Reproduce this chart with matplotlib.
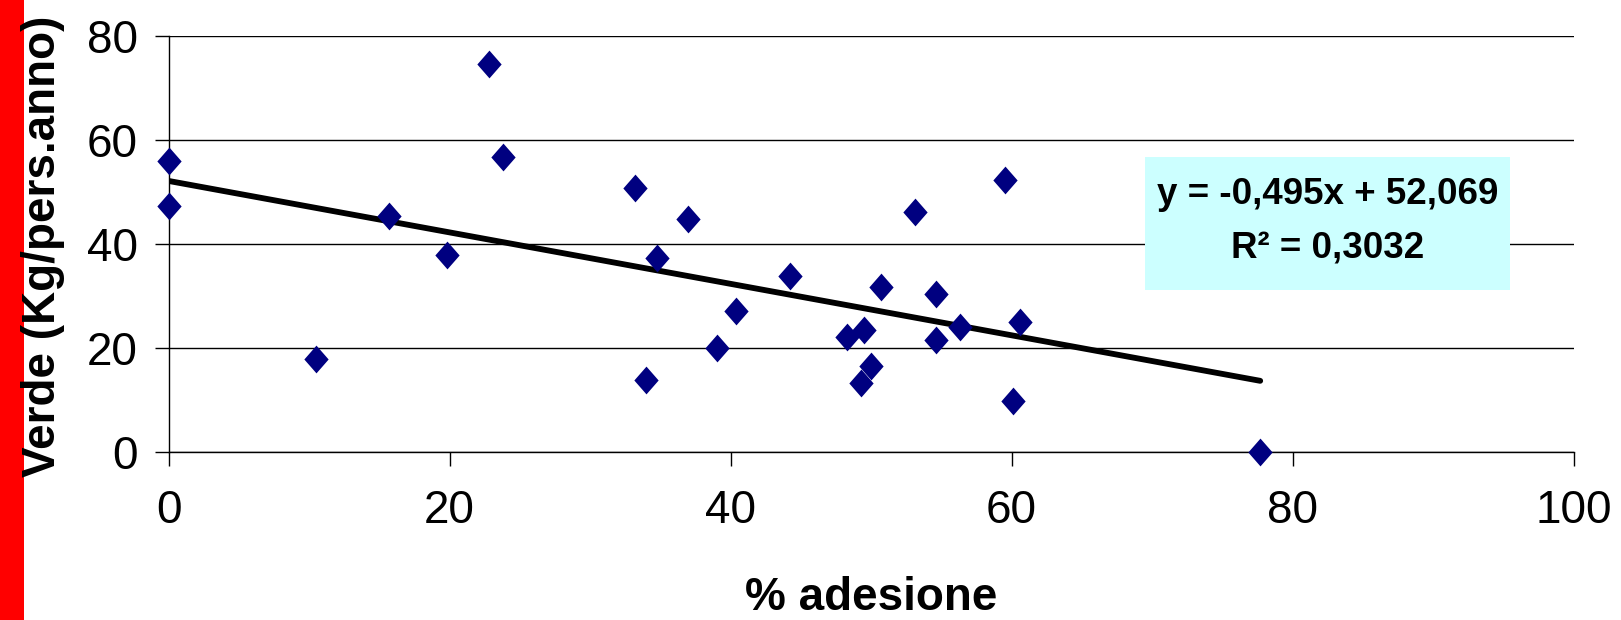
import matplotlib.pyplot as plt
from matplotlib.patches import Rectangle
import numpy as np

# --- dati ---
adesione = [0.0, 0.0, 22.8, 23.8, 15.7, 19.8, 10.5, 33.2, 37.0, 34.8, 34.0,
            39.0, 40.4, 59.5, 53.1, 44.2, 50.7, 54.6, 56.3, 60.6, 49.5,
            48.3, 54.6, 50.0, 49.3, 60.1, 77.7]
verde = [56.0, 47.3, 74.5, 56.6, 45.3, 37.9, 17.9, 50.7, 44.7, 37.2, 13.8,
         20.0, 27.0, 52.2, 46.0, 33.8, 31.7, 30.3, 24.0, 24.9, 23.4,
         22.0, 21.4, 16.5, 13.1, 9.7, 0.0]
pendenza = -0.495
intercetta = 52.069
r2 = 0.3032

x_ticks = [0, 20, 40, 60, 80, 100]
y_ticks = [0, 20, 40, 60, 80]

plt.rcParams['font.family'] = ['Liberation Sans', 'DejaVu Sans']

fig = plt.figure(figsize=(16.21, 6.2), dpi=100)
ax = fig.add_axes([0.104, 0.2717, 0.8667, 0.6706])

# barra rossa a sinistra
fig.patches.append(Rectangle((0, 0), 24 / 1621, 1, transform=fig.transFigure,
                             facecolor='#ff0000', edgecolor='none', zorder=-1))

ax.set_xlim(0, 100)
ax.set_ylim(0, 80)
ax.set_xticks(x_ticks)
ax.set_yticks(y_ticks)
ax.yaxis.grid(True, color='black', linewidth=1.0)
ax.set_axisbelow(True)

for s in ['top', 'right']:
    ax.spines[s].set_visible(False)
for s in ['left', 'bottom']:
    ax.spines[s].set_linewidth(1.0)

ax.tick_params(axis='both', labelsize=33, direction='out', length=10, width=1)
ax.tick_params(axis='y', pad=12)
ax.tick_params(axis='x', pad=17)

# retta di tendenza
xr = np.array([0, max(adesione)])
ax.plot(xr, pendenza * xr + intercetta, color='black', linewidth=4.2,
        solid_capstyle='round', zorder=3)

# rombo un po' più alto che largo, come in Excel
rombo = [(0, 1), (0.875, 0), (0, -1), (-0.875, 0), (0, 1)]
ax.plot(adesione, verde, linestyle='none', marker=rombo, markersize=20,
        color='#000080', markeredgewidth=0, clip_on=False, zorder=4)

ax.set_xlabel('% adesione', fontsize=33, fontweight='bold', va='baseline')
ax.xaxis.set_label_coords(0.5, -0.381)
ax.set_ylabel('Verde (Kg/pers.anno)', fontsize=33, fontweight='bold',
              va='baseline')
ax.yaxis.set_label_coords(-0.0808, 0.494)

# riquadro equazione
ax.add_patch(Rectangle((69.5, 31.0), 26.0, 25.6, facecolor='#ccffff',
                       edgecolor='none', zorder=2))
ax.text(82.5, 47.7, f'y = {pendenza:.3f}x + {intercetta:.3f}'.replace('.', ','),
        ha='center', va='baseline', fontsize=26.5, fontweight='bold', zorder=5)
ax.text(82.5, 37.35, f'R² = {r2:.4f}'.replace('.', ','),
        ha='center', va='baseline', fontsize=26.5, fontweight='bold', zorder=5)

fig.savefig('out.png', dpi=100)
